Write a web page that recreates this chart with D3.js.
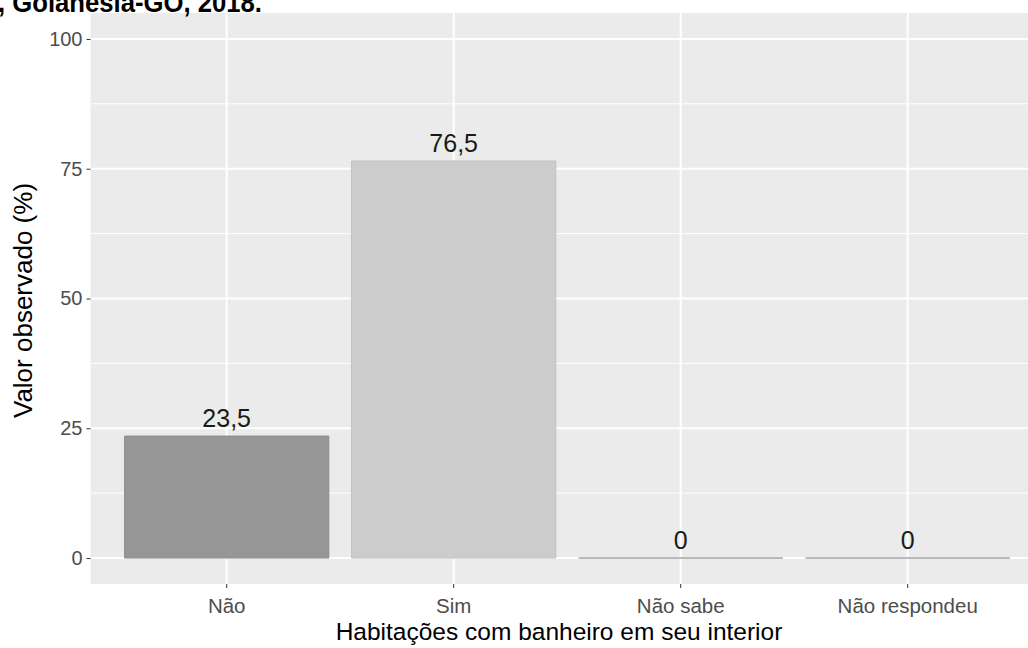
<!DOCTYPE html>
<html><head><meta charset="utf-8">
<script src="https://cdn.jsdelivr.net/npm/d3@7"></script>
<style>body{margin:0;background:#fff}svg{display:block}</style>
</head><body>
<svg id="c" width="1028" height="648"></svg>
<script>
const categories = ["Não", "Sim", "Não sabe", "Não respondeu"];
const values = [23.5, 76.5, 0, 0];
const labels = ["23,5", "76,5", "0", "0"];
const fills = ["#969696", "#cccccc", "#c8c8c8", "#c8c8c8"];
const strokes = ["#8f8f8f", "#c2c2c2", "#a3a3a3", "#a3a3a3"];
const yTicks = [0, 25, 50, 75, 100];
const yMinor = [12.5, 37.5, 62.5, 87.5];

const FONT = "Liberation Sans, Arial, sans-serif";
const svg = d3.select("#c");
const pl = 90.5, pt = 13, pb = 584;
const step = 227;
const pr = pl + step * 4.2;

const x = d3.scaleBand().domain(categories)
  .range([pl + 0.6*step - step/2, pr - 0.6*step + step/2])
  .paddingInner(0.1).paddingOuter(0.05);
const y = d3.scaleLinear().domain([-5, 105]).range([pb, pt]);

svg.append("rect").attr("x", pl).attr("y", pt).attr("width", pr - pl).attr("height", pb - pt).attr("fill", "#ebebeb");

const g = svg.append("g");
g.selectAll(".ymin").data(yMinor).enter().append("line")
  .attr("x1", pl).attr("x2", pr).attr("y1", d => y(d)).attr("y2", d => y(d))
  .attr("stroke", "#fff").attr("stroke-width", 1);
g.selectAll(".ymaj").data(yTicks).enter().append("line")
  .attr("x1", pl).attr("x2", pr).attr("y1", d => y(d)).attr("y2", d => y(d))
  .attr("stroke", "#fff").attr("stroke-width", 2);
g.selectAll(".xmaj").data(categories).enter().append("line")
  .attr("x1", d => x(d) + x.bandwidth()/2).attr("x2", d => x(d) + x.bandwidth()/2)
  .attr("y1", pt).attr("y2", pb).attr("stroke", "#fff").attr("stroke-width", 2);

g.selectAll(".bar").data(values).enter().append("path")
  .attr("d", (d, i) => {
    const p = d3.path();
    const x0 = x(categories[i]), w = x.bandwidth();
    const y0 = y(0), y1 = y(d);
    p.moveTo(x0, y0); p.lineTo(x0, y1); p.lineTo(x0 + w, y1); p.lineTo(x0 + w, y0); p.closePath();
    return p.toString();
  })
  .attr("fill", (d, i) => fills[i])
  .attr("stroke", (d, i) => strokes[i])
  .attr("stroke-width", 1);

g.selectAll(".lbl").data(values).enter().append("text")
  .attr("x", (d, i) => x(categories[i]) + x.bandwidth()/2)
  .attr("y", d => y(d) - 9)
  .attr("text-anchor", "middle")
  .attr("font-family", FONT)
  .attr("font-size", 25).attr("fill", "#1a1a1a")
  .text((d, i) => labels[i]);

// y axis
const ya = svg.append("g").attr("transform", `translate(${pl},0)`)
  .call(d3.axisLeft(y).tickValues(yTicks).tickSize(4).tickPadding(4));
ya.select(".domain").remove();
ya.selectAll(".tick line").attr("stroke", "#333");
ya.selectAll(".tick text").attr("font-family", FONT).attr("font-size", 20).attr("fill", "#4d4d4d");

// x axis
const xa = svg.append("g").attr("transform", `translate(0,${pb})`)
  .call(d3.axisBottom(x).tickSize(4).tickPadding(10));
xa.select(".domain").remove();
xa.selectAll(".tick line").attr("stroke", "#333");
xa.selectAll(".tick text").attr("font-family", FONT).attr("font-size", 20.5).attr("fill", "#4d4d4d");

svg.append("text").attr("x", 559).attr("y", 640).attr("text-anchor", "middle")
  .attr("font-family", FONT).attr("font-size", 24.5).attr("fill", "#000")
  .text("Habitações com banheiro em seu interior");

svg.append("text").attr("transform", `translate(32,${(pt+pb)/2 + 2}) rotate(-90)`).attr("text-anchor", "middle")
  .attr("font-family", FONT).attr("font-size", 26).attr("fill", "#000")
  .text("Valor observado (%)");

svg.append("text").attr("x", -2).attr("y", 12).attr("text-anchor", "start")
  .attr("font-family", FONT).attr("font-weight", "bold")
  .attr("font-size", 27).attr("fill", "#000")
  .attr("textLength", 264).attr("lengthAdjust", "spacingAndGlyphs")
  .text(", Goianésia-GO, 2018.");
</script>
</body></html>
